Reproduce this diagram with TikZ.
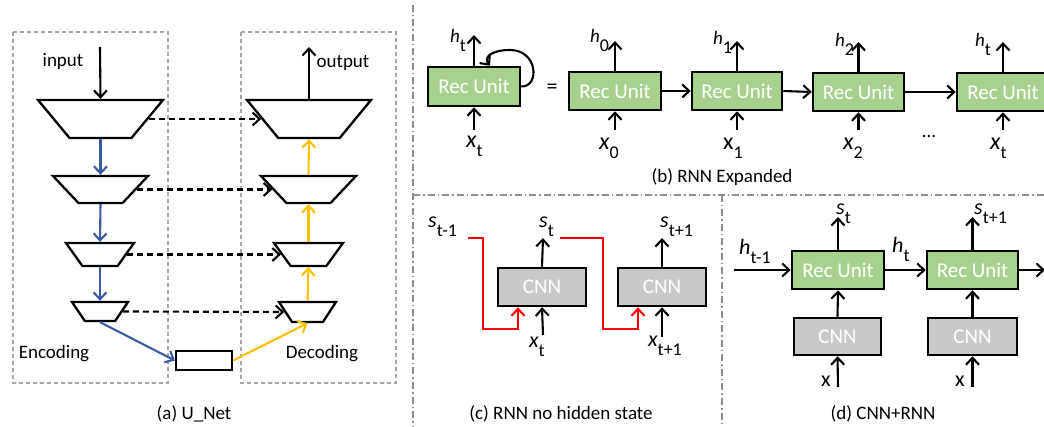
\documentclass[tikz,border=0pt]{standalone}
\usepackage{fontspec}
\setmainfont{Carlito}
\usetikzlibrary{arrows.meta,shapes.geometric}

\definecolor{recgreen}{HTML}{A9D18E}
\definecolor{cnngray}{HTML}{C9C9C9}
\definecolor{encblue}{HTML}{3A5BA4}
\definecolor{decyellow}{HTML}{FFC000}
\definecolor{sepgray}{HTML}{8C8C8C}
\definecolor{boxgray}{HTML}{A6A6A6}

% variable with a lowered index: \lbl[size]{letter}{index}
\newcommand{\lbl}[3][22]{{\fontsize{#1}{#1}\selectfont #2}\raisebox{-9pt}{\fontsize{18}{18}\selectfont #3}}

\tikzset{
  rec/.style={draw,line width=2.5pt,fill=recgreen,text=white,inner sep=0pt,
    minimum width=92pt,minimum height=38pt,font=\fontsize{21}{21}\selectfont},
  cnn/.style={rec,fill=cnngray},
  trap/.style={draw,line width=2.3pt,trapezium,shape border rotate=180,
    trapezium stretches=true,trapezium angle=63,inner sep=1pt},
  arr/.style={->,line width=2.1pt},
  skiparr/.style={->,line width=2.1pt,dash pattern=on 6pt off 4pt},
  divider/.style={draw=sepgray,line width=1.6pt,dash pattern=on 7pt off 3pt on 1.5pt off 3pt},
  ubox/.style={draw=boxgray,line width=1.6pt,dash pattern=on 4pt off 3pt},
  capt/.style={font=\fontsize{19}{19}\selectfont},
  lab/.style={anchor=base west,inner sep=0pt},
  >={Straight Barb[length=7pt,width=13pt]}
}

\begin{document}
\begin{tikzpicture}[x=1pt,y=-1pt]
\useasboundingbox (0,0) rectangle (1044,427);

% panel dividers
\draw[divider] (413,5) -- (413,427);
\draw[divider] (413,195) -- (1044,195);
\draw[divider] (722,195) -- (722,427);

%%% (a) U-Net
\draw[ubox] (13,32) rectangle (168,383);
\draw[ubox] (241,32) rectangle (396,383);

\node[trap,minimum width=125pt,minimum height=38pt] (e1) at (100.5,119) {};
\node[trap,minimum width=95pt,minimum height=27pt,trapezium angle=60] (e2) at (100.5,189.5) {};
\node[trap,minimum width=68pt,minimum height=23pt,trapezium angle=65] (e3) at (100,254.5) {};
\node[trap,minimum width=56pt,minimum height=19pt,trapezium angle=67] (e4) at (100,311.5) {};

\node[trap,minimum width=124pt,minimum height=38pt] (d1) at (309,119) {};
\node[trap,minimum width=95pt,minimum height=27pt,trapezium angle=60] (d2) at (308.5,189.5) {};
\node[trap,minimum width=69pt,minimum height=23pt,trapezium angle=65] (d3) at (308.5,254.5) {};
\node[trap,minimum width=57pt,minimum height=20pt,trapezium angle=67] (d4) at (307.5,312) {};

\node[draw,line width=2.3pt,inner sep=0pt,minimum width=56pt,minimum height=19pt] (mid) at (204,360.5) {};

\coordinate (inp) at (100,47);
\coordinate (outp) at (309,47);
\draw[arr] (inp) -- (e1.90);
\draw[arr] (d1.90) -- (outp);
\node[capt,anchor=base] (tin) at (63,67) {input};
\node[capt,anchor=base] (tout) at (343,68) {output};
\node[capt,anchor=base] (tenc) at (54,359) {Encoding};
\node[capt,anchor=base] (tdec) at (322,359) {Decoding};

% down path
\draw[arr,encblue] (e1.-90) -- (e2.90);
\draw[arr,encblue] (e2.-90) -- (e3.90);
\draw[arr,encblue] (e3.-90) -- (e4.90);
\draw[arr,encblue] (e4.-90) -- (mid.west);
% up path
\draw[arr,decyellow] (mid.east) -- (d4.-90);
\draw[arr,decyellow] (d4.90) -- (d3.-90);
\draw[arr,decyellow] (d3.90) -- (d2.-90);
\draw[arr,decyellow] (d2.90) -- (d1.-90);
% skip connections
\draw[skiparr] (e1.0) -- (d1.180);
\draw[skiparr] (e2.0) -- (d2.180);
\draw[skiparr] (e3.0) -- (d3.180);
\draw[skiparr] (e4.0) -- (d4.180);

\node[capt,anchor=base] (capa) at (194,420) {(a) U\_Net};

%%% (b) RNN expanded
\node[rec,minimum height=39pt] (r0) at (474,86.5) {Rec Unit};
\node[rec] (r1) at (615,91) {Rec Unit};
\node[rec,minimum width=90pt] (r2) at (737,91) {Rec Unit};
\node[rec,minimum width=91pt] (r3) at (858.5,92) {Rec Unit};
\node[rec] (r4) at (1003,92) {Rec Unit};

\coordinate (hup0) at (474,35);
\coordinate (hup1) at (615,41);
\coordinate (hup2) at (737,41);
\coordinate (hup3) at (858.5,42);
\coordinate (hup4) at (1003,42);
\coordinate (xin0) at (474,130);
\coordinate (xin1) at (615,130);
\coordinate (xin2) at (737,130);
\coordinate (xin3) at (858.5,130);
\coordinate (xin4) at (1003,130);

\draw[arr] (r0.north) -- (hup0);
\draw[arr] (r1.north) -- (hup1);
\draw[arr] (r2.north) -- (hup2);
\draw[arr] (r3.north) -- (hup3);
\draw[arr] (r4.north) -- (hup4);
\draw[arr] (xin0) -- (r0.south);
\draw[arr] (xin1) -- (r1.south);
\draw[arr] (xin2) -- (r2.south);
\draw[arr] (xin3) -- (r3.south);
\draw[arr] (xin4) -- (r4.south);

% recurrence loop
\draw[arr] (r0.east) .. controls (540,87) and (538,50) .. (510,50)
  .. controls (492,50) and (483,57) .. ([xshift=16pt]r0.north);

\draw[arr] (r1.east) -- (r2.west);
\draw[arr] (r2.east) -- (r3.west);
\draw[arr] (r3.east) -- (r4.west);

\node[font=\fontsize{22}{22}\selectfont] (eq) at (552,89) {=};
\node[capt,anchor=base] (dots) at (929,138) {...};

\node[lab] (lh) at (450,43) {\lbl[19]{\itshape h}{t}};
\node[lab] (lx) at (466,148) {\lbl[24]{\itshape x}{t}};
\node[lab] (lh0) at (590,43) {\lbl[19]{\itshape h}{0}};
\node[lab] (lx0) at (599,150) {\lbl[24]{\itshape x}{0}};
\node[lab] (lh1) at (713,45) {\lbl[19]{\itshape h}{1}};
\node[lab] (lx1) at (723,150) {\lbl[24]{x}{1}};
\node[lab] (lh2) at (835,47) {\lbl[19]{\itshape h}{2}};
\node[lab] (lx2) at (843,150) {\lbl[24]{\itshape x}{2}};
\node[lab] (lhT) at (975,47) {\lbl[19]{\itshape h}{t}};
\node[lab] (lxT) at (990,150) {\lbl[24]{\itshape x}{t}};

\node[capt,anchor=base] (capb) at (722,183) {(b) RNN Expanded};

%%% (c) RNN without hidden state
\node[cnn,minimum width=88pt] (c1) at (542,287) {CNN};
\node[cnn,minimum width=88pt] (c2) at (662,287) {CNN};

\coordinate (sup1) at (543,238);
\coordinate (sup2) at (662,238);
\coordinate (xc1) at (543,335);
\coordinate (xc2) at (662,337);
\coordinate (sprev) at (468,238);
\coordinate (scur) at (560,238);

\draw[arr] (c1.north) -- (sup1);
\draw[arr] (c2.north) -- (sup2);
\draw[arr] (xc1) -- (c1.south);
\draw[arr] (xc2) -- (c2.south);
\draw[arr,red] (sprev) -| (483,329) -| ([xshift=-24pt]c1.south);
\draw[arr,red] (scur) -| (603,329) -| ([xshift=-24pt]c2.south);

\node[lab] (ls0) at (428,228) {\lbl{\itshape s}{t-1}};
\node[lab] (ls1) at (539,228) {\lbl{\itshape s}{t}};
\node[lab] (ls2) at (660,228) {\lbl{\itshape s}{t+1}};
\node[lab] (lxc1) at (529,348) {\lbl{\itshape x}{t}};
\node[lab] (lxc2) at (648,347) {\lbl{\itshape x}{t+1}};

\node[capt,anchor=base] (capc) at (561,419) {(c) RNN no hidden state};

%%% (d) CNN+RNN
\node[rec] (q1) at (838,270) {Rec Unit};
\node[rec,minimum width=91pt] (q2) at (972.5,270) {Rec Unit};
\node[cnn,minimum width=87pt,minimum height=37pt] (k1) at (837.5,336.5) {CNN};
\node[cnn,minimum width=89pt,minimum height=37pt] (k2) at (972.5,336.5) {CNN};

\coordinate (hin) at (734,270);
\coordinate (hout) at (1045,270);
\coordinate (sq1) at (838,217);
\coordinate (sq2) at (972.5,217);
\coordinate (xd1) at (838,387);
\coordinate (xd2) at (972.5,387);

\draw[arr] (hin) -- (q1.west);
\draw[arr] (q1.east) -- (q2.west);
\draw[arr] (q2.east) -- (hout);
\draw[arr] (q1.north) -- (sq1);
\draw[arr] (q2.north) -- (sq2);
\draw[arr] (k1.north) -- (q1.south);
\draw[arr] (k2.north) -- (q2.south);
\draw[arr] (xd1) -- (k1.south);
\draw[arr] (xd2) -- (k2.south);

\node[lab] (lhd0) at (739,255) {\lbl{\itshape h}{t-1}};
\node[lab] (lhd1) at (892,253) {\lbl{\itshape h}{t}};
\node[lab] (lsd1) at (836,215) {\lbl{\itshape s}{t}};
\node[lab] (lsd2) at (974,215) {\lbl{\itshape s}{t+1}};
\node[lab] (lxd1) at (821,387) {\lbl{x}{}};
\node[lab] (lxd2) at (955,387) {\lbl{x}{}};

\node[capt,anchor=base] (capd) at (883,419) {(d) CNN+RNN};

\end{tikzpicture}
\end{document}
